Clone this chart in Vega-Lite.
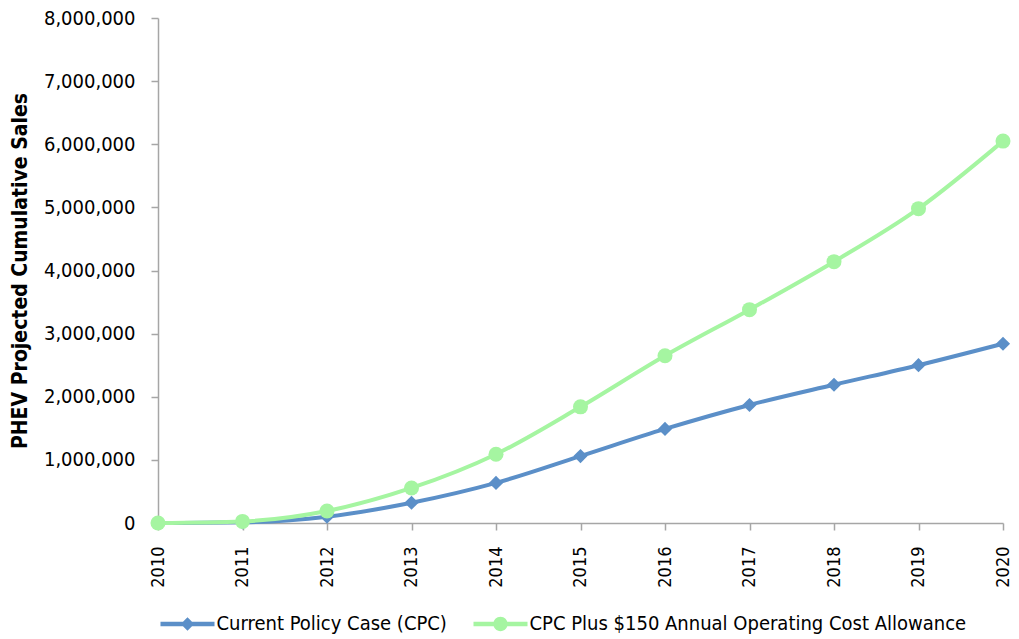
{
  "$schema": "https://vega.github.io/schema/vega-lite/v6.json",
  "autosize": {"type": "none"},
  "width": 845,
  "height": 505,
  "padding": {"left": 158, "top": 18, "right": 16, "bottom": 116},
  "background": "white",
  "config": {
    "font": "DejaVu Sans Condensed, Liberation Sans, sans-serif",
    "view": {"stroke": null}
  },
  "data": {
    "values": [
      {"year": 2010, "series": "Current Policy Case (CPC)", "sales": 0},
      {"year": 2011, "series": "Current Policy Case (CPC)", "sales": 10000},
      {"year": 2012, "series": "Current Policy Case (CPC)", "sales": 100000},
      {"year": 2013, "series": "Current Policy Case (CPC)", "sales": 320000},
      {"year": 2014, "series": "Current Policy Case (CPC)", "sales": 635000},
      {"year": 2015, "series": "Current Policy Case (CPC)", "sales": 1060000},
      {"year": 2016, "series": "Current Policy Case (CPC)", "sales": 1490000},
      {"year": 2017, "series": "Current Policy Case (CPC)", "sales": 1870000},
      {"year": 2018, "series": "Current Policy Case (CPC)", "sales": 2190000},
      {"year": 2019, "series": "Current Policy Case (CPC)", "sales": 2500000},
      {"year": 2020, "series": "Current Policy Case (CPC)", "sales": 2840000},
      {"year": 2010, "series": "CPC Plus $150 Annual Operating Cost Allowance", "sales": 0},
      {"year": 2011, "series": "CPC Plus $150 Annual Operating Cost Allowance", "sales": 25000},
      {"year": 2012, "series": "CPC Plus $150 Annual Operating Cost Allowance", "sales": 190000},
      {"year": 2013, "series": "CPC Plus $150 Annual Operating Cost Allowance", "sales": 555000},
      {"year": 2014, "series": "CPC Plus $150 Annual Operating Cost Allowance", "sales": 1090000},
      {"year": 2015, "series": "CPC Plus $150 Annual Operating Cost Allowance", "sales": 1840000},
      {"year": 2016, "series": "CPC Plus $150 Annual Operating Cost Allowance", "sales": 2650000},
      {"year": 2017, "series": "CPC Plus $150 Annual Operating Cost Allowance", "sales": 3380000},
      {"year": 2018, "series": "CPC Plus $150 Annual Operating Cost Allowance", "sales": 4140000},
      {"year": 2019, "series": "CPC Plus $150 Annual Operating Cost Allowance", "sales": 4980000},
      {"year": 2020, "series": "CPC Plus $150 Annual Operating Cost Allowance", "sales": 6050000}
    ]
  },
  "encoding": {
    "x": {
      "field": "year",
      "type": "quantitative",
      "scale": {"domain": [2010, 2020], "nice": false, "zero": false},
      "axis": {
        "values": [2010, 2011, 2012, 2013, 2014, 2015, 2016, 2017, 2018, 2019, 2020],
        "format": "d",
        "labelAngle": -90,
        "labelAlign": "right",
        "labelBaseline": "middle",
        "labelFontSize": 18,
        "labelColor": "#000000",
        "labelPadding": 16,
        "labelFlush": false,
        "labelOverlap": false,
        "grid": false,
        "domainColor": "#a6a6a6",
        "domainWidth": 1.5,
        "tickColor": "#a6a6a6",
        "tickWidth": 1.5,
        "tickSize": 7,
        "title": null
      }
    },
    "y": {
      "field": "sales",
      "type": "quantitative",
      "scale": {"domain": [0, 8000000], "nice": false},
      "axis": {
        "values": [0, 1000000, 2000000, 3000000, 4000000, 5000000, 6000000, 7000000, 8000000],
        "format": ",d",
        "labelFontSize": 20,
        "labelColor": "#000000",
        "labelPadding": 16,
        "labelFlush": false,
        "grid": false,
        "domainColor": "#a6a6a6",
        "domainWidth": 1.5,
        "tickColor": "#a6a6a6",
        "tickWidth": 1.5,
        "tickSize": 7,
        "title": "PHEV Projected Cumulative  Sales",
        "titleFontSize": 21,
        "titleFontWeight": "bold",
        "titleColor": "#000000",
        "titlePadding": 13
      }
    }
  },
  "layer": [
    {
      "mark": {"type": "line", "strokeWidth": 4, "interpolate": "monotone"},
      "encoding": {
        "color": {
          "field": "series",
          "type": "nominal",
          "sort": ["Current Policy Case (CPC)", "CPC Plus $150 Annual Operating Cost Allowance"],
          "scale": {
            "domain": ["Current Policy Case (CPC)", "CPC Plus $150 Annual Operating Cost Allowance"],
            "range": ["#5b8fc8", "#a5f5a1"]
          },
          "legend": {
            "orient": "none",
            "direction": "horizontal",
            "legendX": 19.5,
            "legendY": 596,
            "padding": 0,
            "title": null,
            "labelFontSize": 20,
            "labelLimit": 600,
            "labelColor": "#000000",
            "labelOffset": 19,
            "columnPadding": 25,
            "symbolSize": 285,
            "symbolType": "M-3.2,-0.26H3.2V0.26H-3.2Z",
            "encode": {
              "symbols": {
                "update": {
                  "shape": {"signal": "datum.value === 'Current Policy Case (CPC)' ? 'M-3.2,-0.26H3.2V0.26H-3.2Z M0,-0.8L0.8,0L0,0.8L-0.8,0Z' : 'M-3.2,-0.26H3.2V0.26H-3.2Z M0.85,0A0.85,0.85,0,1,1,-0.85,0A0.85,0.85,0,1,1,0.85,0Z'"},
                  "fill": {"signal": "datum.value === 'Current Policy Case (CPC)' ? '#5b8fc8' : '#a5f5a1'"},
                  "fillOpacity": {"value": 1},
                  "strokeWidth": {"value": 0}
                }
              }
            }
          }
        }
      }
    },
    {
      "transform": [{"filter": "datum.series === 'Current Policy Case (CPC)'"}],
      "mark": {"type": "point", "filled": true, "opacity": 1, "shape": "diamond", "size": 200, "color": "#5b8fc8"},
      "encoding": {}
    },
    {
      "transform": [{"filter": "datum.series === 'CPC Plus $150 Annual Operating Cost Allowance'"}],
      "mark": {"type": "point", "filled": true, "opacity": 1, "shape": "circle", "size": 225, "color": "#a5f5a1"},
      "encoding": {}
    }
  ]
}
